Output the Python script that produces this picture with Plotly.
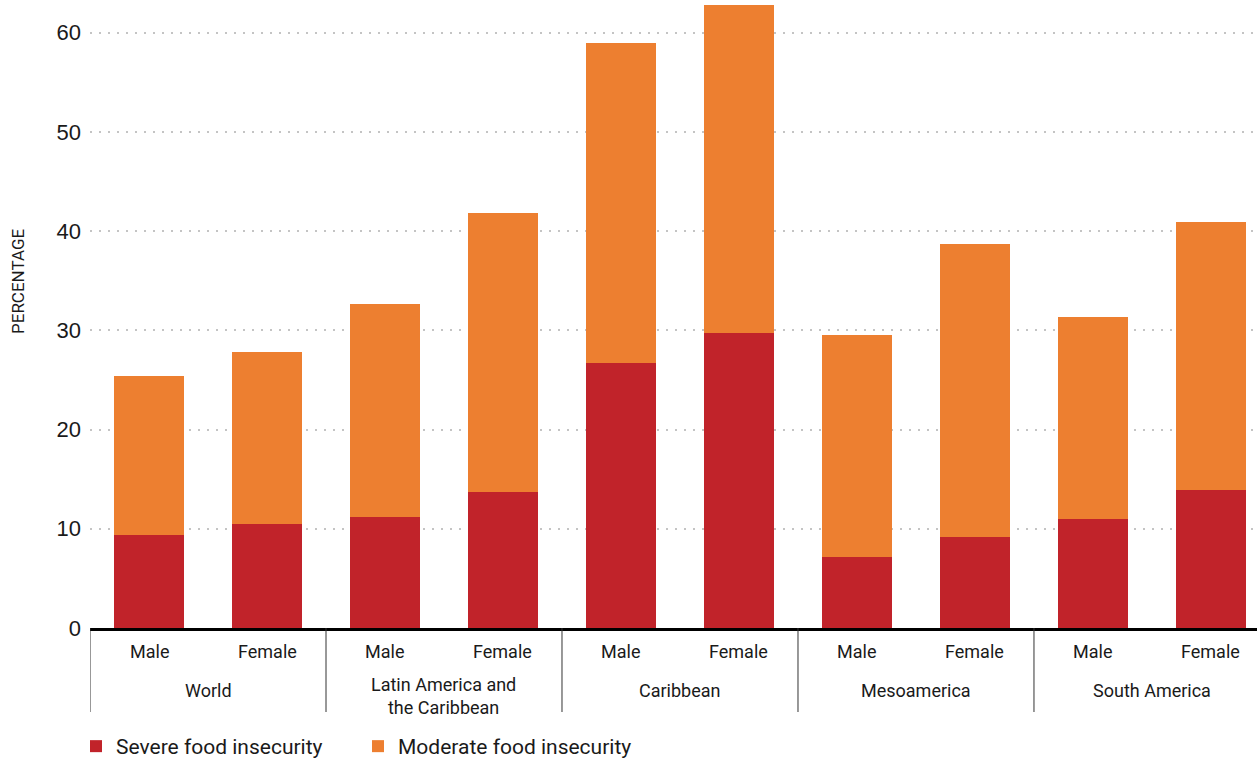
import plotly.graph_objects as go

region_names = ["World", "Latin America and<br>the Caribbean", "Caribbean", "Mesoamerica", "South America"]
sex_names = ["Male", "Female"]
severe = [9.4, 10.5, 11.2, 13.7, 26.7, 29.7, 7.2, 9.2, 11.0, 13.9]
total = [25.4, 27.8, 32.7, 41.8, 59.0, 62.8, 29.5, 38.7, 31.3, 40.9]
moderate = [round(t - s, 1) for t, s in zip(total, severe)]

categories = [f"{r}|{s}" for r in region_names for s in sex_names]

RED = "#C1232A"
ORANGE = "#ED7F30"
TXT = "#1a1a1a"
LBL_FONT = dict(size=18, family="Roboto", color=TXT)

fig = go.Figure()
fig.add_trace(go.Bar(x=categories, y=severe, name="Severe food insecurity",
                     marker=dict(color=RED, line=dict(width=0))))
fig.add_trace(go.Bar(x=categories, y=moderate, name="Moderate food insecurity",
                     marker=dict(color=ORANGE, line=dict(width=0))))

PLOT_H = 628.0
annotations = []
# sex labels
for i, c in enumerate(categories):
    annotations.append(dict(text=c.split("|")[1], xref="x", yref="paper", x=i, y=-(651 - PLOT_H) / PLOT_H,
                            showarrow=False, xanchor="center", yanchor="middle", font=LBL_FONT))
# region labels
for j, r in enumerate(region_names):
    top = 672 if "<br>" in r else 678
    annotations.append(dict(text=r, xref="x", yref="paper", x=2 * j + 0.5, y=-(top - PLOT_H) / PLOT_H,
                            showarrow=False, xanchor="center", yanchor="top", font=LBL_FONT))
annotations.append(dict(text="PERCENTAGE", textangle=-90, xref="paper", yref="paper",
                        x=(18 - 90) / 1167, y=(PLOT_H - 281) / PLOT_H, showarrow=False,
                        xanchor="center", yanchor="middle",
                        font=dict(size=17, family="Roboto", color=TXT)))

shapes = []
for j in range(len(region_names)):
    shapes.append(dict(type="line", xref="x", yref="paper", x0=2 * j - 0.5, x1=2 * j - 0.5,
                       y0=0, y1=-(712 - PLOT_H) / PLOT_H, line=dict(color="#333333", width=1)))

fig.update_layout(
    barmode="stack",
    bargap=0.4,
    width=1257, height=760,
    margin=dict(l=90, r=0, t=0, b=132, autoexpand=False),
    plot_bgcolor="white", paper_bgcolor="white",
    font=dict(family="Roboto", color=TXT, size=17),
    showlegend=True,
    legend=dict(orientation="h", x=-0.012, xanchor="left",
                yref="container", y=(760 - 726) / 760, yanchor="top",
                font=dict(size=21, family="Roboto", color=TXT),
                entrywidth=237, entrywidthmode="pixels", itemwidth=30,
                traceorder="normal"),
    xaxis=dict(type="category", showline=True, linecolor="black", linewidth=2.5,
               showticklabels=False, ticks="", automargin=False, range=[-0.5, 9.39]),
    yaxis=dict(range=[0, 63.3], tickvals=[0, 10, 20, 30, 40, 50, 60],
               showgrid=True, gridcolor="#c4c4c4", griddash="2px,7px", gridwidth=1.5,
               zeroline=False, showline=False, ticks="", automargin=False,
               tickfont=dict(size=22, family="Liberation Sans", color=TXT),
               ticklabelstandoff=8),
    annotations=annotations,
    shapes=shapes,
)

fig.write_html("out.html")
